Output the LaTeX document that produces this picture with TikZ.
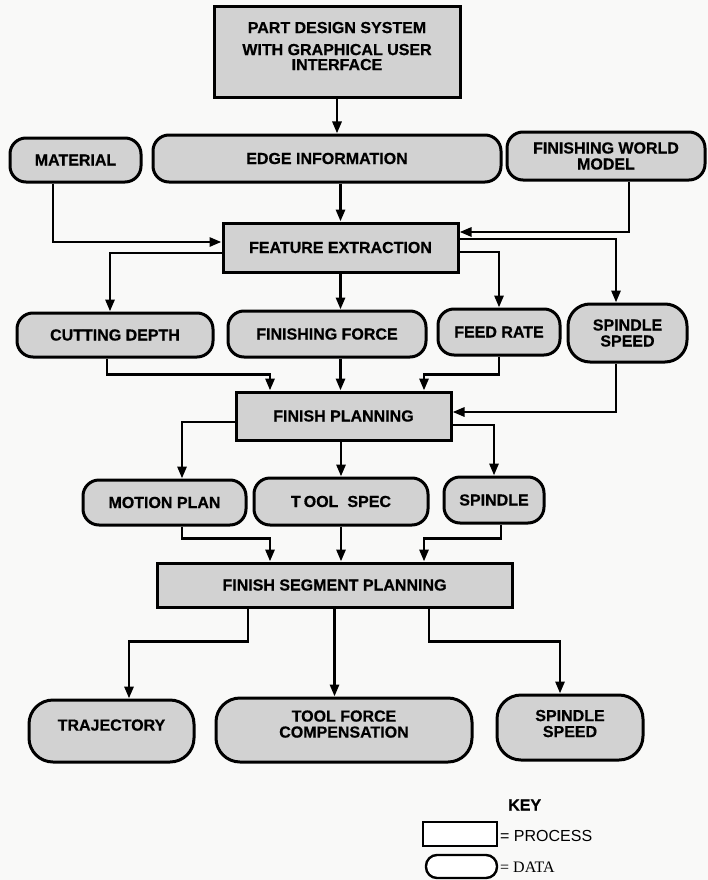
\documentclass[tikz,border=0pt]{standalone}
\usepackage{fontspec}
\setmainfont{Liberation Sans}[BoldFeatures={FakeBold=0.6}]
\newfontfamily\keyserif{Liberation Serif}
\usetikzlibrary{arrows.meta}
\definecolor{boxgray}{RGB}{210,210,210}
\definecolor{bggray}{RGB}{249,249,248}
\begin{document}
\begin{tikzpicture}[x=1pt,y=-1pt,
  every node/.style={inner sep=0pt, align=center, font=\bfseries\fontsize{16}{16}\selectfont},
  proc/.style={draw, line width=3pt, fill=boxgray, rectangle},
  datab/.style={draw, line width=3pt, fill=boxgray, rounded corners=16pt},
  conn/.style={line width=2.8pt, -{Triangle[length=12pt,width=9pt]}}]
\fill[bggray] (0,0) rectangle (708,880);
\useasboundingbox (0,0) rectangle (708,880);

% nodes
\node[proc, minimum width=246pt, minimum height=91pt] (pds) at (337,52.5) {PART DESIGN SYSTEM\\[6pt]WITH GRAPHICAL USER\\[-1pt]INTERFACE\\[-3pt]\mbox{}};
\node[datab, minimum width=131pt, minimum height=44pt] (mat) at (75.5,160) {MATERIAL};
\node[datab, minimum width=348pt, minimum height=47pt] (ei) at (327,158.5) {EDGE INFORMATION};
\node[datab, minimum width=198pt, minimum height=48pt] (fwm) at (606,156) {FINISHING WORLD\\MODEL};
\node[proc, minimum width=235pt, minimum height=49pt] (fe) at (340.5,247.5) {FEATURE EXTRACTION};
\node[datab, minimum width=196pt, minimum height=44pt] (cd) at (115,335) {CUTTING DEPTH};
\node[datab, minimum width=198pt, minimum height=46pt] (ff) at (327,334) {FINISHING FORCE};
\node[datab, minimum width=122pt, minimum height=46pt] (fr) at (499,332) {FEED RATE};
\node[datab, rounded corners=22pt, minimum width=119pt, minimum height=58pt] (ss) at (627.5,333) {SPINDLE\\SPEED};
\node[proc, minimum width=215pt, minimum height=48pt] (fp) at (343.5,416) {FINISH PLANNING};
\node[datab, minimum width=163pt, minimum height=45pt] (mp) at (164.5,502.5) {MOTION PLAN};
\node[datab, minimum width=174pt, minimum height=47pt] (ts) at (341,501.5) {T\hspace{3pt}OOL\hspace{9pt}SPEC};
\node[datab, minimum width=100pt, minimum height=46pt] (sp) at (494,500) {SPINDLE};
\node[proc, minimum width=355pt, minimum height=44pt] (fsp) at (334.5,585) {FINISH SEGMENT PLANNING};
\node[datab, rounded corners=24pt, minimum width=165pt, minimum height=62pt] (traj) at (111.5,731) {TRAJECTORY\\[-4pt]\mbox{}};
\node[datab, rounded corners=24pt, minimum width=256pt, minimum height=64pt] (tfc) at (344,730) {TOOL FORCE\\COMPENSATION\\[-4pt]\mbox{}};
\node[datab, rounded corners=24pt, minimum width=146pt, minimum height=65pt] (ss2) at (570,727.5) {SPINDLE\\SPEED\\[-8pt]\mbox{}};

% key
\node[anchor=west] (key) at (508,805) {KEY};
\node[proc, fill=white, line width=2.4pt, minimum width=74pt, minimum height=24pt] (kp) at (460,834) {};
\node[anchor=west, font=\fontsize{16}{16}\selectfont] (kpt) at (500,836) {= PROCESS};
\node[datab, fill=white, line width=2.4pt, rounded corners=11pt, minimum width=71pt, minimum height=23pt] (kd) at (461.5,866.5) {};
\node[anchor=west, font=\keyserif\fontsize{16}{16}\selectfont] (kdt) at (500,867) {= DATA};

% connectors
\draw[conn] (pds.south) -- (pds.south |- ei.north);
\draw[conn] (fe.north |- ei.south) -- (fe.north);
\draw[conn] ([xshift=-22.5pt]mat.south) |- ([yshift=5.5pt]fe.west);
\draw[conn] ([xshift=23pt]fwm.south) |- ([yshift=15.5pt]fe.east);

\draw[conn] ([yshift=-5.5pt]fe.west) -| ([xshift=-5pt]cd.north);
\draw[conn] (fe.south) -- (fe.south |- ff.north);
\draw[conn] ([yshift=-4.5pt]fe.east) -| (fr.north);
\draw[conn] ([yshift=8.5pt]fe.east) -| ([xshift=-11.5pt]ss.north);

\draw[conn] ([xshift=-8pt]cd.south) -- ++(0,16) -| ([xshift=-73.5pt]fp.north);
\draw[conn] (ff.south -| fe.south) -- (fp.north -| fe.south);
\draw[conn] (fr.south) -- ++(0,18) -| ([xshift=80.5pt]fp.north);
\draw[conn] ([xshift=-11.5pt]ss.south) |- ([yshift=4pt]fp.east);

\draw[conn] ([yshift=-6pt]fp.west) -| ([xshift=17.5pt]mp.north);
\draw[conn] (ts.north |- fp.south) -- (ts.north);
\draw[conn] ([yshift=-9pt]fp.east) -| (sp.north);

\draw[conn] ([xshift=17.5pt]mp.south) -- ++(0,12) -| ([xshift=-64.5pt]fsp.north);
\draw[conn] (ts.south) -- (ts.south |- fsp.north);
\draw[conn] ([xshift=7pt]sp.south) -- ++(0,14) -| ([xshift=89.5pt]fsp.north);

\draw[conn] ([xshift=-86.5pt]fsp.south) -- ++(0,33) -| ([xshift=17.5pt]traj.north);
\draw[conn] (fsp.south) -- (fsp.south |- tfc.north);
\draw[conn] ([xshift=94.5pt]fsp.south) -- ++(0,33) -| ([xshift=-10pt]ss2.north);
\end{tikzpicture}
\end{document}
